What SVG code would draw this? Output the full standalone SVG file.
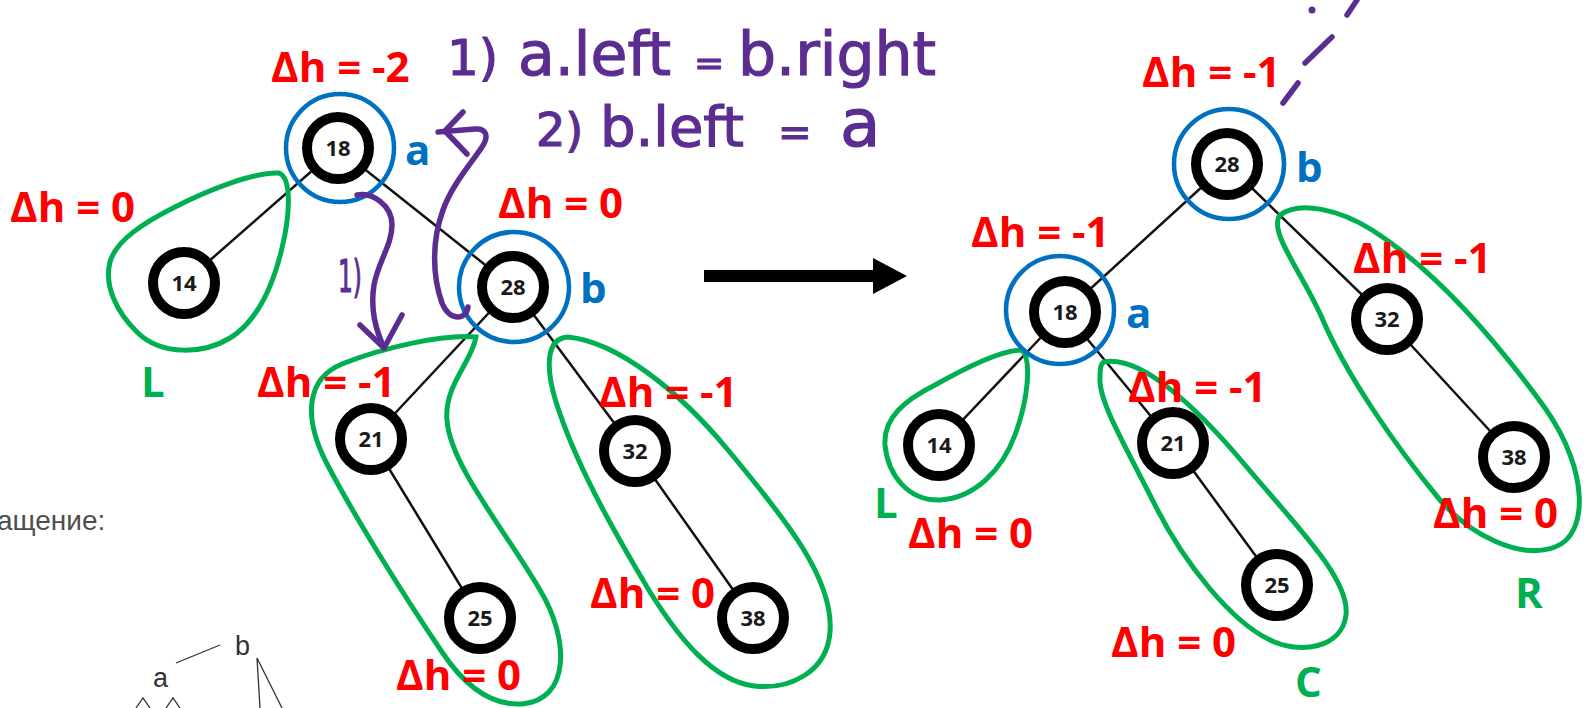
<svg xmlns="http://www.w3.org/2000/svg" width="1585" height="708" viewBox="0 0 1585 708">
<defs>
<style>
.edge{stroke:#111;stroke-width:2.5;fill:none}
.node circle{fill:#fff;stroke:#000;stroke-width:10}
.node text{font-family:"Open Sans","Liberation Sans",sans-serif;font-weight:bold;font-size:22px;fill:#1a1a1a;text-anchor:middle}
.blob{fill:none;stroke:#00b050;stroke-width:5}
.sel{fill:none;stroke:#0070c0;stroke-width:4.5}
.dh{font-family:"Open Sans","Liberation Sans",sans-serif;font-weight:bold;font-size:42px;fill:#ff0000}
.lb{font-family:"Open Sans","Liberation Sans",sans-serif;font-weight:bold;font-size:42px}
.blue{fill:#0070c0}
.green{fill:#00b050}
.pen{fill:none;stroke:#5c2d91;stroke-width:5.5;stroke-linecap:round;stroke-linejoin:round}
.hand{font-family:"DejaVu Sans",sans-serif;fill:#5c2d91;stroke:#5c2d91;stroke-width:1.2}
.page{font-family:"Liberation Sans",Arial,sans-serif}
</style>
</defs>
<rect width="1585" height="708" fill="#fff"/>

<!-- page fragment -->
<text class="page" x="-3" y="530" font-size="28" fill="#4d4d4d">ащение:</text>
<g id="sketch">
<text class="page" x="153" y="687" font-size="27" fill="#333">a</text>
<text class="page" x="235" y="655" font-size="27" fill="#333">b</text>
<path d="M176,663 L220,645" stroke="#333" stroke-width="1.3" fill="none"/>
<path d="M136,708 L143,698 L150,708 M166,708 L173,698 L180,708 M257,658 L260,708 M257,658 L282,708" stroke="#333" stroke-width="1.3" fill="none"/>
</g>

<!-- connectors -->
<g id="connectors">
<path class="edge" d="M338,148 L184,283"/>
<path class="edge" d="M338,148 L513,287"/>
<path class="edge" d="M513,287 L371,439"/>
<path class="edge" d="M371,439 L480,618"/>
<path class="edge" d="M513,287 L635,451"/>
<path class="edge" d="M635,451 L753,618"/>
<path class="edge" d="M1227,164 L1065,312"/>
<path class="edge" d="M1227,164 L1387,319"/>
<path class="edge" d="M1065,312 L939,445"/>
<path class="edge" d="M1065,312 L1173,443"/>
<path class="edge" d="M1173,443 L1277,585"/>
<path class="edge" d="M1387,319 L1514,457"/>
</g>

<!-- left tree nodes -->
<g id="L18" class="node"><circle cx="338" cy="148" r="31"/><text x="338" y="156">18</text></g>
<g id="L14" class="node"><circle cx="184" cy="283" r="31"/><text x="184" y="291">14</text></g>
<g id="L28" class="node"><circle cx="513" cy="287" r="31"/><text x="513" y="295">28</text></g>
<g id="L21" class="node"><circle cx="371" cy="439" r="31"/><text x="371" y="447">21</text></g>
<g id="L25" class="node"><circle cx="480" cy="618" r="31"/><text x="480" y="626">25</text></g>
<g id="L32" class="node"><circle cx="635" cy="451" r="31"/><text x="635" y="459">32</text></g>
<g id="L38" class="node"><circle cx="753" cy="618" r="31"/><text x="753" y="626">38</text></g>

<!-- right tree nodes -->
<g id="R28" class="node"><circle cx="1227" cy="164" r="31"/><text x="1227" y="172">28</text></g>
<g id="R18" class="node"><circle cx="1065" cy="312" r="31"/><text x="1065" y="320">18</text></g>
<g id="R32" class="node"><circle cx="1387" cy="319" r="31"/><text x="1387" y="327">32</text></g>
<g id="R14" class="node"><circle cx="939" cy="445" r="31"/><text x="939" y="453">14</text></g>
<g id="R21" class="node"><circle cx="1173" cy="443" r="31"/><text x="1173" y="451">21</text></g>
<g id="R25" class="node"><circle cx="1277" cy="585" r="31"/><text x="1277" y="593">25</text></g>
<g id="R38" class="node"><circle cx="1514" cy="457" r="31"/><text x="1514" y="465">38</text></g>

<!-- green subtree outlines -->
<g id="groups">
<path class="blob" d="M279,173 C292,178 290,215 282,248 C272,290 256,322 230,338 C204,354 162,356 138,333 C116,312 104,285 110,262 C116,240 145,222 175,207 C210,189 255,172 279,173 Z"/>
<path class="blob" d="M476,337 C472,362 444,385 447,420 C450,465 505,530 540,590 C570,640 570,700 522,704 C488,706 462,682 442,652 C400,590 352,512 326,462 C302,414 308,378 342,364 C382,348 442,334 476,337 Z"/>
<path class="blob" d="M568,337 C618,342 680,392 728,450 C788,522 834,580 830,632 C827,672 790,690 754,686 C714,681 680,640 650,592 C610,525 575,462 556,402 C546,370 545,338 568,337 Z"/>
<path class="blob" d="M1022,350 C1032,360 1028,400 1015,435 C1002,470 975,498 940,500 C908,501 888,475 885,445 C883,418 905,400 935,385 C965,368 1000,350 1022,350 Z"/>
<path class="blob" d="M1104,362 C1140,355 1195,405 1245,465 C1300,530 1350,580 1346,615 C1342,648 1300,655 1270,640 C1232,622 1185,565 1155,505 C1125,445 1098,400 1100,378 C1100,368 1101,363 1104,362 Z"/>
<path class="blob" d="M1280,215 C1300,200 1340,210 1372,230 C1432,268 1492,335 1545,408 C1590,472 1588,535 1555,547 C1520,560 1470,535 1440,500 C1392,442 1345,372 1322,318 C1302,272 1268,232 1280,215 Z"/>
</g>

<!-- blue markers -->
<g id="markers">
<circle class="sel" cx="340" cy="148" r="54"/>
<circle class="sel" cx="514" cy="287" r="55"/>
<circle class="sel" cx="1229" cy="164" r="55"/>
<circle class="sel" cx="1060" cy="310" r="54"/>
</g>

<!-- transition arrow -->
<g id="arrow">
<rect x="704" y="270" width="170" height="12" fill="#000"/>
<polygon points="873,258 907,276 873,294" fill="#000"/>
</g>

<!-- labels -->
<g id="labels">
<text class="dh" x="271" y="82">Δh = -2</text>
<text class="dh" x="10" y="222">Δh = 0</text>
<text class="dh" x="498" y="218">Δh = 0</text>
<text class="dh" x="257" y="397">Δh = -1</text>
<text class="dh" x="599" y="407">Δh = -1</text>
<text class="dh" x="396" y="690">Δh = 0</text>
<text class="dh" x="590" y="608">Δh = 0</text>
<text class="dh" x="1142" y="87">Δh = -1</text>
<text class="dh" x="971" y="247">Δh = -1</text>
<text class="dh" x="1353" y="273">Δh = -1</text>
<text class="dh" x="1128" y="402">Δh = -1</text>
<text class="dh" x="908" y="548">Δh = 0</text>
<text class="dh" x="1433" y="528">Δh = 0</text>
<text class="dh" x="1111" y="657">Δh = 0</text>
<text class="lb blue" x="405" y="165">a</text>
<text class="lb blue" x="580" y="303">b</text>
<text class="lb blue" x="1296" y="182">b</text>
<text class="lb blue" x="1126" y="328">a</text>
<text class="lb green" x="141" y="397">L</text>
<text class="lb green" x="874" y="518">L</text>
<text class="lb green" x="1515" y="608">R</text>
<text class="lb green" x="1295" y="697">C</text>
</g>

<!-- handwritten annotations -->
<g id="notes">
<text class="hand" y="75"><tspan x="447" font-size="50">1) </tspan><tspan x="518" font-size="60">a.left </tspan><tspan x="694" font-size="36">= </tspan><tspan x="738" font-size="60">b.right</tspan></text>
<text class="hand" y="146"><tspan x="536" font-size="46">2) </tspan><tspan x="600" font-size="56">b.left </tspan><tspan x="778" font-size="40">= </tspan><tspan x="840" font-size="66">a</tspan></text>
<text class="hand" x="338" y="292" font-size="44" textLength="24" lengthAdjust="spacingAndGlyphs">1)</text>
<path class="pen" d="M357,195 C372,192 392,205 392,225 C392,245 378,262 374,285 C370,310 376,330 384,348"/>
<path class="pen" d="M360,325 L384,348 L402,315"/>
<path class="pen" d="M468,307 C466,320 450,322 442,303 C432,275 432,240 443,210 C452,185 470,165 482,147 C490,135 485,128 475,129 L438,132"/>
<path class="pen" d="M463,112 L445,131 L467,154"/>
<circle cx="1312" cy="10" r="3.5" fill="#5c2d91"/>
<path class="pen" d="M1347,15 L1357,0 M1332,37 L1305,63 M1298,83 L1283,103"/>
</g>
</svg>
